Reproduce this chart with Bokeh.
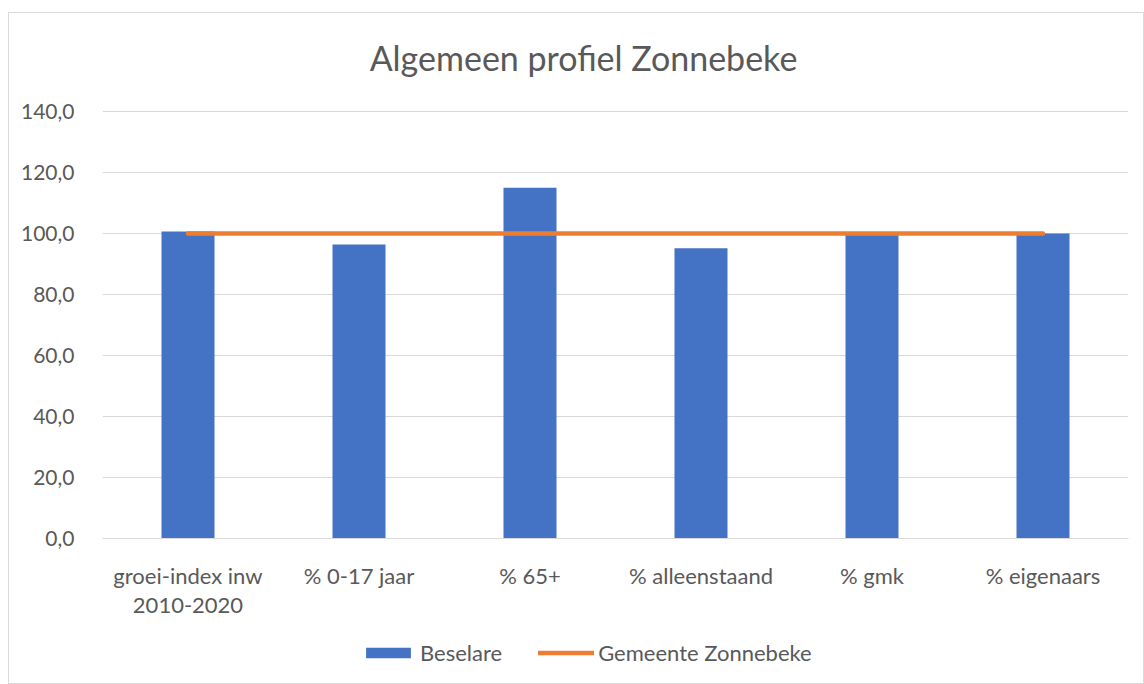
from bokeh.plotting import figure
from bokeh.layouts import column
from bokeh.models import (ColumnDataSource, Legend, LegendItem, CustomJSTickFormatter,
                          FixedTicker, Label)
from bokeh.embed import file_html
from bokeh.resources import INLINE

title_text = "Algemeen profiel Zonnebeke"
categories = ["groei-index inw\n2010-2020", "% 0-17 jaar", "% 65+", "% alleenstaand", "% gmk", "% eigenaars"]
beselare = [100.7, 96.4, 115.0, 95.2, 99.6, 100.0]
gemeente = [100.0, 100.0, 100.0, 100.0, 100.0, 100.0]
y_ticks = [0, 20, 40, 60, 80, 100, 120, 140]
series_names = ["Beselare", "Gemeente Zonnebeke"]

FONT = "Lato"
GREY = "#595959"
GRID = "#d9d9d9"
BLUE = "#4472C4"
ORANGE = "#ED7D31"

src = ColumnDataSource(dict(cat=categories, bes=beselare, gem=gemeente))

# ---- title strip ----
tf = figure(width=1134, height=84, x_range=(0, 1026), y_range=(0, 84),
            x_axis_type=None, y_axis_type=None, output_backend="svg", toolbar_location=None,
            min_border_left=93, min_border_right=15, min_border_top=0, min_border_bottom=0)
tf.outline_line_color = None
tf.add_layout(Label(x=481, y=40, text=title_text, text_align="center", text_baseline="middle",
                    text_font=FONT, text_font_size="34px", text_color=GREY))

# ---- main chart ----
p = figure(x_range=categories, y_range=(0, 140.35), width=1134, height=526,
           output_backend="svg", toolbar_location=None, title=None,
           min_border_left=93, min_border_right=15, min_border_top=13, min_border_bottom=85)
p.outline_line_color = None

p.vbar(x="cat", top="bes", width=0.31, source=src, fill_color=BLUE, line_color=None)
p.line(x="cat", y="gem", source=src, line_color=ORANGE, line_width=4.5, line_cap="round")

p.xgrid.grid_line_color = None
p.ygrid.grid_line_color = GRID
p.ygrid.grid_line_width = 1
p.yaxis.ticker = FixedTicker(ticks=y_ticks)
p.yaxis.formatter = CustomJSTickFormatter(code="return tick.toFixed(1).replace('.', ',');")
p.yaxis.axis_line_color = None
p.yaxis.major_tick_line_color = None
p.yaxis.minor_tick_line_color = None
p.yaxis.major_label_standoff = 22
p.xaxis.axis_line_color = GRID
p.xaxis.axis_line_width = 1
p.xaxis.major_tick_line_color = None
p.xaxis.minor_tick_line_color = None
p.xaxis.major_label_standoff = 17
p.xaxis.major_label_text_line_height = 1.1
p.yaxis.major_label_text_font_size = "21px"
p.xaxis.major_label_text_font_size = "22px"
for ax in (p.xaxis[0], p.yaxis[0]):
    ax.major_label_text_font = FONT
    ax.major_label_text_color = GREY

# ---- legend strip (series drawn outside its visible range; only legend shows) ----
lf = figure(width=1134, height=60, x_range=categories, y_range=(1000, 1001),
            x_axis_type=None, y_axis_type=None, output_backend="svg", toolbar_location=None,
            min_border_left=93, min_border_right=15, min_border_top=0, min_border_bottom=0)
lf.outline_line_color = None
lf.grid.grid_line_color = None
lb = lf.vbar(x="cat", top="bes", width=0.31, source=src, fill_color=BLUE, line_color=None)
ll = lf.line(x="cat", y="gem", source=src, line_color=ORANGE, line_width=4.5, line_cap="round")
legend = Legend(items=[LegendItem(label=series_names[0], renderers=[lb]),
                       LegendItem(label=series_names[1], renderers=[ll])],
                orientation="horizontal", location=(258, 17),
                glyph_width=56, glyph_height=13, spacing=36, padding=0, margin=0,
                label_text_font=FONT, label_text_font_size="22px", label_text_color=GREY,
                label_standoff=4, border_line_color=None, background_fill_alpha=0)
lf.add_layout(legend, "center")

layout = column(tf, p, lf, spacing=0)
layout.styles = {"border": "1px solid #d9d9d9", "margin-top": "12px", "margin-left": "8px"}

open("out.html", "w").write(file_html(layout, INLINE))
